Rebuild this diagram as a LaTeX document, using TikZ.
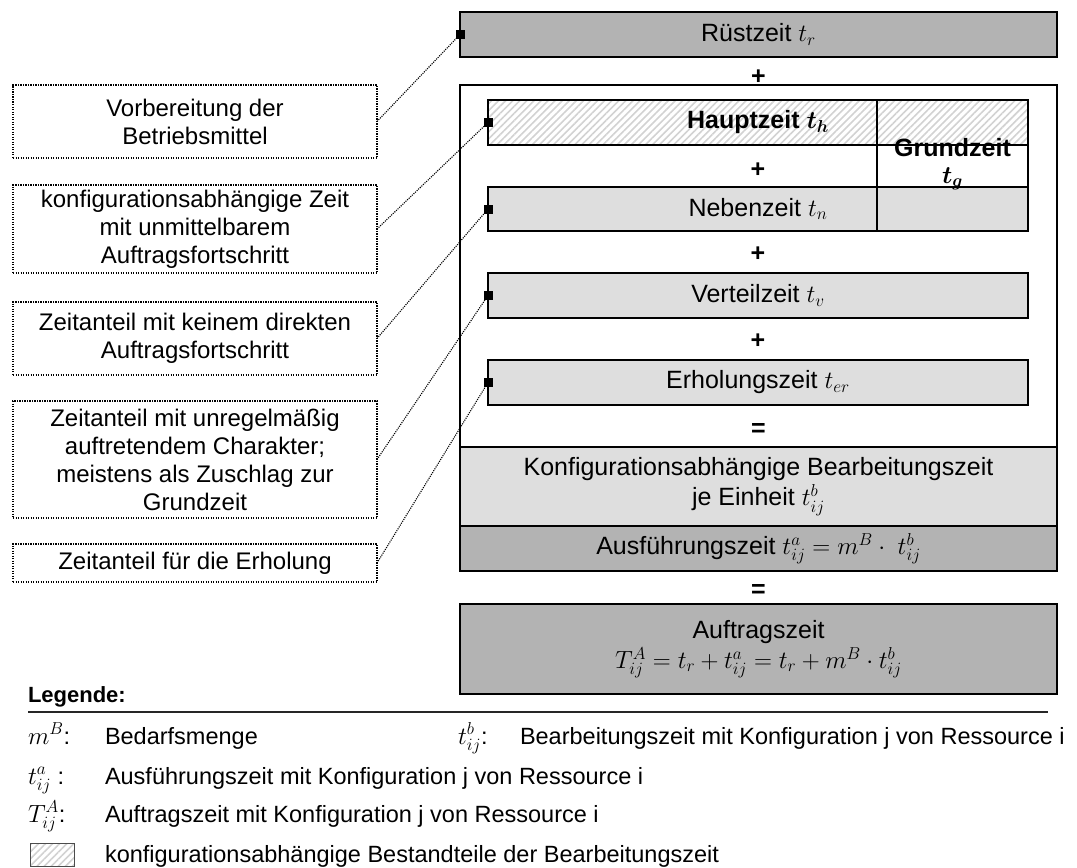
\documentclass[tikz,border=0pt]{standalone}
\usepackage{amsmath}
\usepackage{fontspec}
\setmainfont{Liberation Sans}
\usetikzlibrary{patterns.meta}

\definecolor{darkfill}{HTML}{B3B3B3}
\definecolor{lightfill}{HTML}{DEDEDE}
\definecolor{hatchline}{HTML}{D2D2D2}

\tikzset{
  every node/.style={inner sep=0pt, outer sep=0pt},
  boxfont/.style={font=\fontsize{25}{29}\selectfont},
  notefont/.style={font=\fontsize{24}{28}\selectfont},
  part/.style={draw, line width=1.6pt, align=center, boxfont,
    minimum width=#1},
  wide/.style={part=597},
  inner/.style={part=540},
  hatched/.style={preaction={fill=white},
    pattern={Lines[angle=45,distance=5pt,line width=1.6pt]},
    pattern color=hatchline},
  note/.style={draw, line width=1.2pt, dash pattern=on 1.2pt off 1.3pt,
    minimum width=364, align=center, notefont},
  leader/.style={line width=1.1pt, dash pattern=on 1.1pt off 1.1pt},
  marker/.style={fill=black, minimum size=9pt},
  op/.style={font=\fontsize{25}{28}\selectfont\bfseries},
  legend/.style={anchor=base west, font=\fontsize{23.5}{28}\selectfont},
}

\begin{document}
\begin{tikzpicture}[x=1pt,y=-1pt]
\useasboundingbox (0,0) rectangle (1077,868);

% time components on the right
\node[wide, fill=darkfill, minimum height=45] (rz) at (758.5,34.5) {Rüstzeit $t_r$};
\node[op] (p0) at (758.5,77) {+};
\node[draw, line width=1.6pt, fill=white, minimum width=597, minimum height=362] (frame) at (758.5,266) {};

\node[inner, hatched, minimum height=45] (hz) at (758,122.5) {\textbf{Hauptzeit $\boldsymbol{t_h}$}};
\node[op] (p1) at (758,170) {+};
\node[inner, fill=lightfill, minimum height=44] (nz) at (758,209) {Nebenzeit $t_n$};
\node[draw, line width=1.6pt, minimum width=151, minimum height=131] (gz) at (952.5,165.5) {};
\node[align=center, font=\fontsize{25}{28}\selectfont\bfseries] (gzt) at (952.5,164) {Grundzeit\\[-1pt]$\boldsymbol{t_g}$};
\node[op] (p2) at (758,254) {+};
\node[inner, fill=lightfill, minimum height=45] (vz) at (758,295.5) {Verteilzeit $t_v$};
\node[op] (p3) at (758,341) {+};
\node[inner, fill=lightfill, minimum height=45] (ez) at (758,382.5) {Erholungszeit $t_{er}$};
\node[op] (e1) at (758.5,430) {=};

\node[wide, fill=lightfill, minimum height=79] (kb) at (758.5,486.5)
  {Konfigurationsabhängige Bearbeitungszeit\\[1pt] je Einheit $t_{ij}^{b}$};
\node[wide, fill=darkfill, minimum height=45] (az) at (758.5,548.5)
  {Ausführungszeit $t_{ij}^{a} = m^{B}\cdot\ t_{ij}^{b}$};
\node[op] (e2) at (758.5,591) {=};
\node[wide, fill=darkfill, minimum height=90] (ag) at (758.5,649)
  {Auftragszeit\\[1pt] $T_{ij}^{A} = t_r + t_{ij}^{a} = t_r + m^{B}\cdot t_{ij}^{b}$};

% explanations on the left
\node[note, minimum height=73] (n1) at (195,121.5) {Vorbereitung der\\Betriebsmittel};
\node[note, minimum height=88] (n2) at (195,229) {konfigurationsabhängige Zeit\\mit unmittelbarem\\Auftragsfortschritt};
\node[note, minimum height=73] (n3) at (195,338.5) {Zeitanteil mit keinem direkten\\Auftragsfortschritt};
\node[note, minimum height=117] (n4) at (195,459.5) {Zeitanteil mit unregelmäßig\\auftretendem Charakter;\\meistens als Zuschlag zur\\Grundzeit};
\node[note, minimum height=38] (n5) at (195,563) {Zeitanteil für die Erholung};

% anchor squares and leader lines
\node[marker] (m1) at (rz.west) {};
\node[marker] (m2) at (hz.west) {};
\node[marker] (m3) at (nz.west) {};
\node[marker] (m4) at (vz.west) {};
\node[marker] (m5) at (ez.west) {};
\draw[leader] (n1.east) -- (m1.center);
\draw[leader] (n2.east) -- (m2.center);
\draw[leader] (n3.east) -- (m3.center);
\draw[leader] (n4.east) -- (m4.center);
\draw[leader] (n5.east) -- (m5.center);

% legend
\node[anchor=west, font=\fontsize{22}{26}\selectfont\bfseries] (lg) at (28,697) {Legende:};
\draw[line width=1.6pt, black!85] (28,712) -- (1048,712);
\node[legend] (s1) at (28,744) {$m^{B}$:};
\node[legend] (d1) at (105,744) {Bedarfsmenge};
\node[legend] (s2) at (458,744) {$t_{ij}^{b}$:};
\node[legend] (d2) at (520,744) {Bearbeitungszeit mit Konfiguration j von Ressource i};
\node[legend] (s3) at (28,784) {$t_{ij}^{a}$ :};
\node[legend] (d3) at (105,784) {Ausführungszeit mit Konfiguration j von Ressource i};
\node[legend] (s4) at (28,822) {$T_{ij}^{A}$:};
\node[legend] (d4) at (105,822) {Auftragszeit mit Konfiguration j von Ressource i};
\node[hatched, draw=black!70, line width=1pt, minimum width=44, minimum height=23] (s5) at (52,854.5) {};
\node[legend] (d5) at (105,862) {konfigurationsabhängige Bestandteile der Bearbeitungszeit};
\end{tikzpicture}
\end{document}
